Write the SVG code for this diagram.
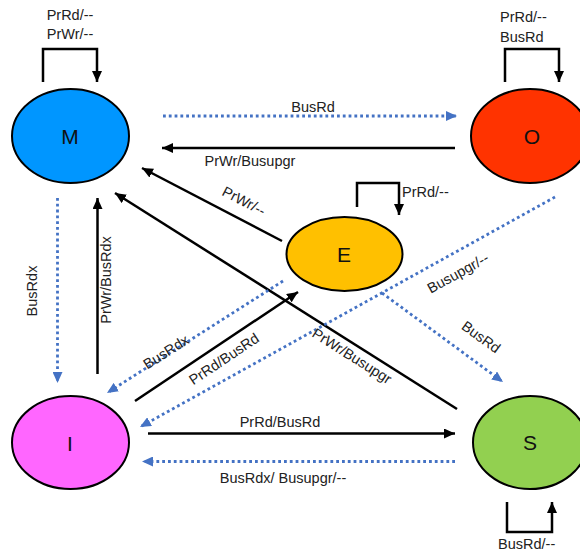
<svg xmlns="http://www.w3.org/2000/svg" width="580" height="553" viewBox="0 0 580 553">
<style>
.node{stroke:#000;stroke-width:2}
.lbl{font-family:"Liberation Sans",Arial,sans-serif;font-size:14.5px;fill:#222}
.st{font-family:"Liberation Sans",Arial,sans-serif;font-size:21px;fill:#111;text-anchor:middle;dominant-baseline:central}
.solid{fill:none;stroke:#000;stroke-width:2.5;marker-end:url(#ab)}
.dot{fill:none;stroke:#4472C4;stroke-width:2.8;stroke-dasharray:2.8 3;marker-end:url(#au)}
.rl{text-anchor:middle;dominant-baseline:central}
</style>
<defs>
<marker id="ab" markerUnits="userSpaceOnUse" markerWidth="12" markerHeight="10" refX="11" refY="5" orient="auto"><path d="M0,0 L11,5 L0,10 z" fill="#000"/></marker>
<marker id="au" markerUnits="userSpaceOnUse" markerWidth="12" markerHeight="10" refX="11" refY="5" orient="auto"><path d="M0,0 L11,5 L0,10 z" fill="#4472C4"/></marker>
</defs>
<rect width="580" height="553" fill="#fff"/>
<g id="connectors">
<path class="solid" d="M43,82 V49 H97 V82"/>
<path class="solid" d="M505,82 V49 H559 V82"/>
<path class="solid" d="M357,207 V183 H399 V215"/>
<path class="solid" d="M507,502 V532 H552 V502"/>
<line class="dot" x1="163" y1="116" x2="457" y2="116"/>
<line class="solid" x1="455" y1="148" x2="162" y2="148"/>
<line class="solid" x1="282" y1="241" x2="142" y2="168"/>
<line class="solid" x1="457" y1="409" x2="115" y2="193"/>
<line class="dot" x1="57.5" y1="198" x2="57.5" y2="383"/>
<line class="solid" x1="97.5" y1="374" x2="97.5" y2="198"/>
<line class="dot" x1="283" y1="281" x2="107" y2="393"/>
<line class="solid" x1="135" y1="401" x2="298" y2="292"/>
<line class="dot" x1="555" y1="197" x2="140" y2="427"/>
<line class="dot" x1="382" y1="293" x2="503" y2="382"/>
<line class="solid" x1="148" y1="433.5" x2="455" y2="433.5"/>
<line class="dot" x1="455" y1="461.5" x2="142" y2="461.5"/>
</g>
<g id="labels">
<text class="lbl" x="70" y="20" text-anchor="middle">PrRd/--</text>
<text class="lbl" x="70" y="39" text-anchor="middle">PrWr/--</text>
<text class="lbl" x="500" y="22">PrRd/--</text>
<text class="lbl" x="500" y="42">BusRd</text>
<text class="lbl" x="402" y="197">PrRd/--</text>
<text class="lbl" x="498" y="549">BusRd/--</text>
<text class="lbl" x="313" y="112" text-anchor="middle">BusRd</text>
<text class="lbl" x="250" y="166" text-anchor="middle">PrWr/Busupgr</text>
<text class="lbl rl" transform="translate(244,201) rotate(27.5)">PrWr/--</text>
<text class="lbl rl" transform="translate(352,356) rotate(32.3)">PrWr/Busupgr</text>
<text class="lbl rl" transform="translate(32,291) rotate(-90)">BusRdx</text>
<text class="lbl rl" transform="translate(105.5,280) rotate(-90)">PrWr/BusRdx</text>
<text class="lbl rl" transform="translate(166,352) rotate(-32.5)">BusRdx</text>
<text class="lbl rl" transform="translate(224,359) rotate(-33.8)">PrRd/BusRd</text>
<text class="lbl rl" transform="translate(458,273) rotate(-29)">Busupgr/--</text>
<text class="lbl rl" transform="translate(481,337) rotate(36)">BusRd</text>
<text class="lbl" x="280" y="427" text-anchor="middle">PrRd/BusRd</text>
<text class="lbl" x="283" y="483" text-anchor="middle">BusRdx/ Busupgr/--</text>
</g>
<g id="M"><ellipse class="node" cx="70.5" cy="136" rx="58.5" ry="47" fill="#0096FF"/><text class="st" x="70" y="136">M</text></g>
<g id="O"><ellipse class="node" cx="530" cy="136" rx="59" ry="47" fill="#FF3300"/><text class="st" x="532" y="136">O</text></g>
<g id="E"><ellipse class="node" cx="344.5" cy="254" rx="58" ry="37" fill="#FFC000"/><text class="st" x="344" y="254">E</text></g>
<g id="I"><ellipse class="node" cx="70.5" cy="442.5" rx="58.5" ry="46.5" fill="#FF66FF"/><text class="st" x="70" y="443">I</text></g>
<g id="S"><ellipse class="node" cx="530" cy="442.5" rx="57" ry="46.5" fill="#92D050"/><text class="st" x="530" y="442">S</text></g>
</svg>
